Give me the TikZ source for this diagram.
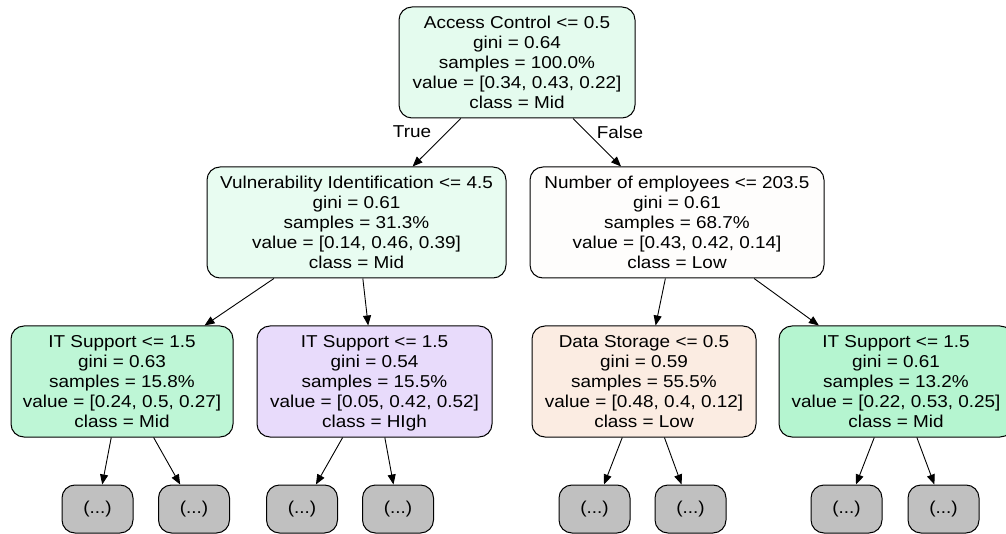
\documentclass[tikz,border=0pt]{standalone}
\usepackage{fontspec}
\setmainfont[FakeStretch=1.1]{Liberation Sans}
\usetikzlibrary{arrows.meta}
\definecolor{cRoot}{RGB}{228,251,238}
\definecolor{cLM}{RGB}{232,252,241}
\definecolor{cRM}{RGB}{254,253,252}
\definecolor{cA}{RGB}{190,246,214}
\definecolor{cB}{RGB}{232,219,251}
\definecolor{cC}{RGB}{251,236,226}
\definecolor{cD}{RGB}{181,245,208}
\definecolor{leafgray}{RGB}{192,192,192}
\newcommand{\topstrut}{\rule{0pt}{17.5pt}}
\begin{document}
\begin{tikzpicture}[x=1pt,y=-1pt,
  box/.style={draw=black, line width=1pt, rounded corners=13pt, align=center, inner sep=0pt, font=\fontsize{17.2}{20}\selectfont},
  inner/.style={box, minimum height=111pt},
  leaf/.style={box, fill=leafgray, minimum width=71pt, minimum height=48pt},
  lbl/.style={font=\fontsize{17.2}{20}\selectfont, inner sep=0pt},
  edge/.style={-{Triangle[length=10pt,width=8pt]}, line width=0.9pt}]
\useasboundingbox (0,0) rectangle (1006,534);
\node[inner, fill=cRoot, minimum width=236pt] (root) at (517,62.5) {\topstrut Access Control <= 0.5\\gini = 0.64\\samples = 100.0\%\\value = [0.34, 0.43, 0.22]\\class = Mid\strut};
\node[inner, fill=cLM, minimum width=299pt] (lm) at (356.5,222.5) {\topstrut Vulnerability Identification <= 4.5\\gini = 0.61\\samples = 31.3\%\\value = [0.14, 0.46, 0.39]\\class = Mid\strut};
\node[inner, fill=cRM, minimum width=294pt] (rm) at (677,222.5) {\topstrut Number of employees <= 203.5\\gini = 0.61\\samples = 68.7\%\\value = [0.43, 0.42, 0.14]\\class = Low\strut};
\node[inner, fill=cA, minimum width=222pt] (a) at (122,381.5) {\topstrut IT Support <= 1.5\\gini = 0.63\\samples = 15.8\%\\value = [0.24, 0.5, 0.27]\\class = Mid\strut};
\node[inner, fill=cB, minimum width=235pt] (b) at (374.5,381.5) {\topstrut IT Support <= 1.5\\gini = 0.54\\samples = 15.5\%\\value = [0.05, 0.42, 0.52]\\class = HIgh\strut};
\node[inner, fill=cC, minimum width=224pt] (c) at (644,381.5) {\topstrut Data Storage <= 0.5\\gini = 0.59\\samples = 55.5\%\\value = [0.48, 0.4, 0.12]\\class = Low\strut};
\node[inner, fill=cD, minimum width=234pt] (d) at (896,381.5) {\topstrut IT Support <= 1.5\\gini = 0.61\\samples = 13.2\%\\value = [0.22, 0.53, 0.25]\\class = Mid\strut};
\node[leaf] (a1) at (97.5,509) {(...)};
\node[leaf] (a2) at (194,509) {(...)};
\node[leaf] (b1) at (302,509) {(...)};
\node[leaf] (b2) at (398,509) {(...)};
\node[leaf] (c1) at (594.5,509) {(...)};
\node[leaf] (c2) at (690.5,509) {(...)};
\node[leaf] (d1) at (846.5,509) {(...)};
\node[leaf] (d2) at (943.5,509) {(...)};
\draw[edge] (root) -- (lm);
\draw[edge] (root) -- (rm);
\draw[edge] (lm) -- (a);
\draw[edge] (lm) -- (b);
\draw[edge] (rm) -- (c);
\draw[edge] (rm) -- (d);
\draw[edge] (a) -- (a1);
\draw[edge] (a) -- (a2);
\draw[edge] (b) -- (b1);
\draw[edge] (b) -- (b2);
\draw[edge] (c) -- (c1);
\draw[edge] (c) -- (c2);
\draw[edge] (d) -- (d1);
\draw[edge] (d) -- (d2);
\node[lbl] (t) at (412,132) {True};
\node[lbl] (f) at (620,132) {False};
\end{tikzpicture}
\end{document}
